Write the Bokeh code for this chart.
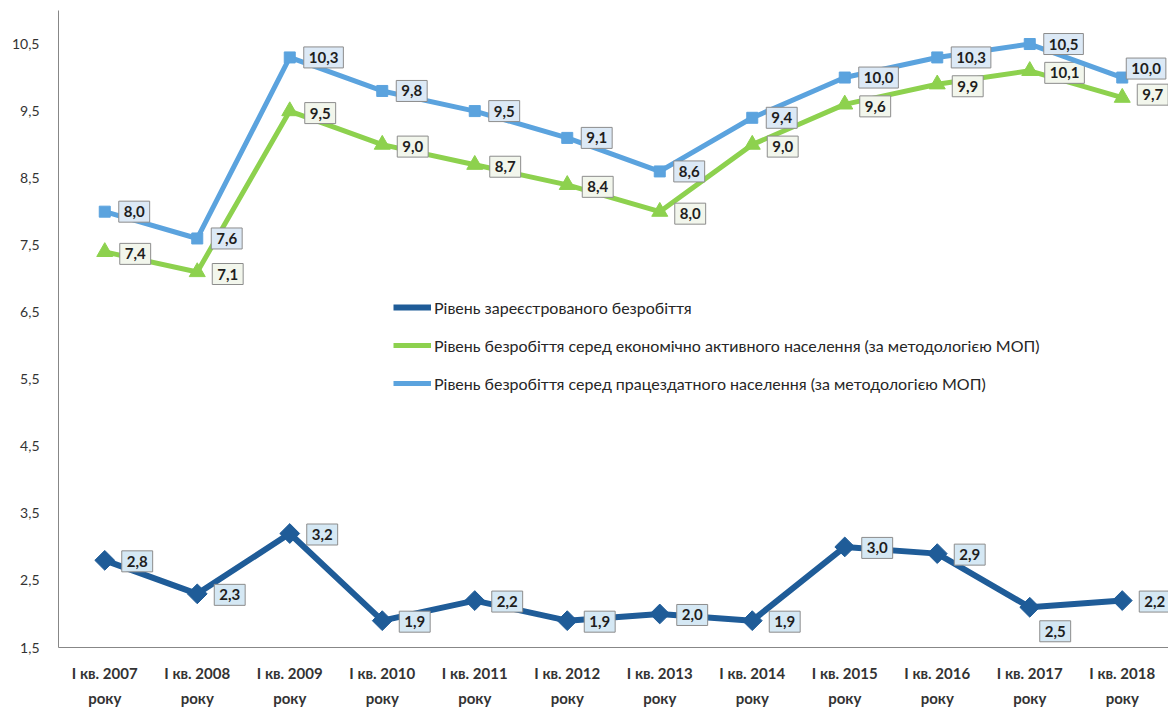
import numpy as np
from bokeh.plotting import figure
from bokeh.models import (ColumnDataSource, Range1d, FactorRange,
                          Legend, LegendItem, FixedTicker)
from bokeh.core.properties import value
from bokeh.embed import file_html
from bokeh.resources import INLINE

# ---- data ----
years = ["2007", "2008", "2009", "2010", "2011", "2012",
         "2013", "2014", "2015", "2016", "2017", "2018"]
categories = ["I кв. " + y + "\nроку" for y in years]
registered = [2.8, 2.3, 3.2, 1.9, 2.2, 1.9, 2.0, 1.9, 3.0, 2.9, 2.1, 2.2]
registered_labels = ["2,8", "2,3", "3,2", "1,9", "2,2", "1,9",
                     "2,0", "1,9", "3,0", "2,9", "2,5", "2,2"]
active = [7.4, 7.1, 9.5, 9.0, 8.7, 8.4, 8.0, 9.0, 9.6, 9.9, 10.1, 9.7]
ablebodied = [8.0, 7.6, 10.3, 9.8, 9.5, 9.1, 8.6, 9.4, 10.0, 10.3, 10.5, 10.0]
y_ticks = [1.5, 2.5, 3.5, 4.5, 5.5, 6.5, 7.5, 8.5, 9.5, 10.5]

names = ["Рівень зареєстрованого безробіття",
         "Рівень безробіття серед економічно активного населення (за методологією МОП)",
         "Рівень безробіття серед працездатного населення (за методологією МОП)"]

FONT = "Lato"
C_REG = "#1f5c98"
C_ACT = "#8dd14e"
C_ABL = "#5ba3de"

p = figure(width=1168, height=709, output_backend="svg", toolbar_location=None,
           x_range=FactorRange(factors=categories), y_range=Range1d(1.5, 11.0),
           min_border_left=58, min_border_right=0, min_border_top=10,
           min_border_bottom=58)
p.outline_line_color = None
p.xgrid.visible = False
p.ygrid.visible = False
p.background_fill_color = "white"

def fmt(v):
    return ("%.1f" % v).replace(".", ",")

def series(vals, texts, color, lw, marker, msize, angle, fill, xoffs, yoffs, leg_size):
    src = ColumnDataSource(dict(x=categories, y=vals, t=texts, xo=xoffs, yo=yoffs))
    lr = p.line("x", "y", source=src, line_color=color, line_width=lw)
    p.scatter("x", "y", source=src, marker=marker, size=msize, angle=angle,
              fill_color=color, line_color=color)
    p.text("x", "y", text="t", source=src, x_offset="xo", y_offset="yo",
           text_align="left", text_baseline="middle",
           text_font=value(FONT), text_font_size="15px", text_font_style="bold",
           text_color="#1e1e1e", background_fill_color=fill,
           border_line_color="#8c8c8c", border_line_width=1, padding=5)
    leg = p.scatter(x=[], y=[], marker=marker, size=leg_size, angle=angle,
                    fill_color=color, line_color=color)
    return lr, leg

n = len(years)
# label offsets (screen px, positive y = down)
reg_xo = [17] * n
reg_yo = [1] * n
reg_xo[10] = 10
reg_yo[10] = 24
act_xo = [15] * n
act_yo = [2] * n
act_yo[11] = -3
abl_xo = [14] * n
abl_yo = [0] * n
abl_xo[11] = 4
abl_yo[11] = -9

r1 = series(registered, registered_labels, C_REG, 6, "square", 14, np.pi / 4,
            "#d5e8f4", reg_xo, reg_yo, 7)
r2 = series(active, [fmt(v) for v in active], C_ACT, 5, "triangle", 16, 0,
            "#f2f6ec", act_xo, act_yo, 6)
r3 = series(ablebodied, [fmt(v) for v in ablebodied], C_ABL, 5, "square", 11, 0,
            "#dce9f6", abl_xo, abl_yo, 6)

legend = Legend(items=[LegendItem(label=names[0], renderers=[r1[0], r1[1]]),
                       LegendItem(label=names[1], renderers=[r2[0], r2[1]]),
                       LegendItem(label=names[2], renderers=[r3[0], r3[1]])],
                location=(335, 254), padding=0, margin=0, spacing=18,
                glyph_width=38, glyph_height=20, label_height=20, label_standoff=3,
                background_fill_alpha=0, border_line_color=None,
                label_text_font=FONT, label_text_font_size="16px",
                label_text_color="#262626")
p.add_layout(legend, "center")

# axes
p.yaxis.ticker = FixedTicker(ticks=y_ticks)
p.yaxis.major_label_overrides = {t: fmt(t) for t in y_ticks}
p.yaxis.major_tick_line_color = None
p.yaxis.minor_tick_line_color = None
p.yaxis.axis_line_color = "#878787"
p.yaxis.major_label_standoff = 13
p.yaxis.major_label_text_font = FONT
p.yaxis.major_label_text_font_size = "14px"
p.yaxis.major_label_text_color = "#333333"

p.xaxis.major_tick_line_color = None
p.xaxis.axis_line_color = "#878787"
p.xaxis.major_label_standoff = 10
p.xaxis.major_label_text_font = FONT
p.xaxis.major_label_text_font_size = "15px"
p.xaxis.major_label_text_font_style = "bold"
p.xaxis.major_label_text_color = "#333333"
p.xaxis.major_label_text_line_height = 1.4

open("out.html", "w").write(file_html(p, INLINE))
